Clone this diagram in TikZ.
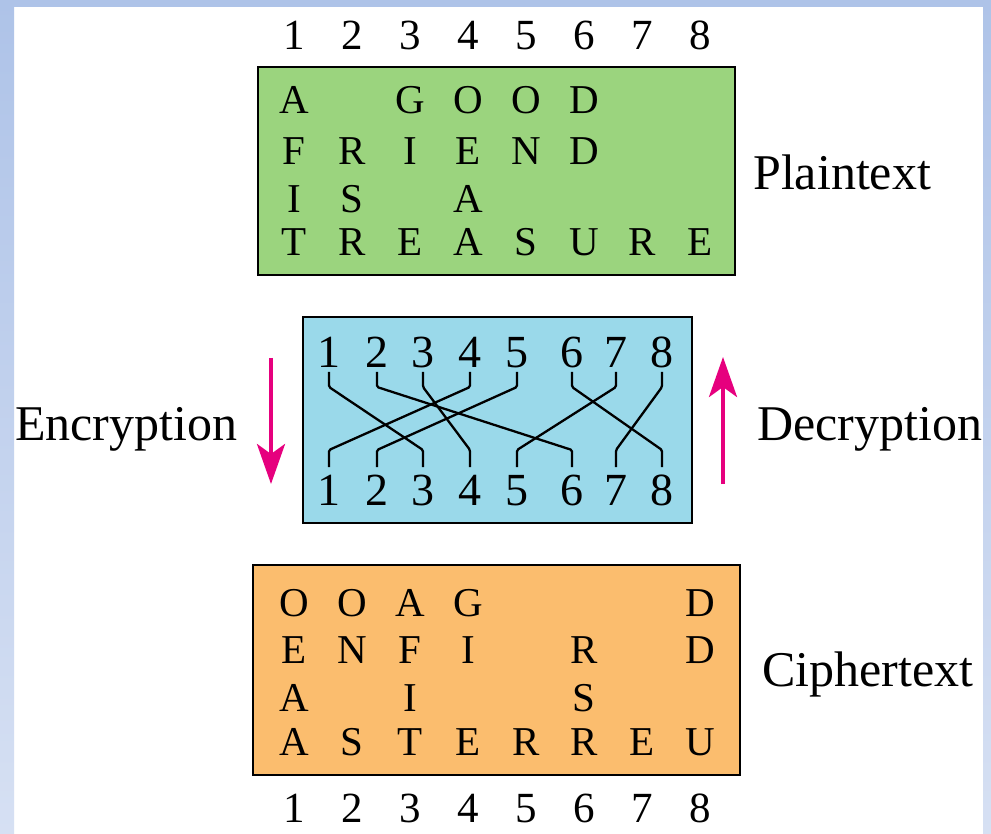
\documentclass[tikz,border=0pt]{standalone}
\usepackage{fontspec}
\setmainfont{Liberation Serif}
\usetikzlibrary{arrows.meta,calc}
\definecolor{framebluetop}{RGB}{174,195,232}
\definecolor{framebluebot}{RGB}{214,224,243}
\definecolor{plaingreen}{RGB}{155,212,126}
\definecolor{keyblue}{RGB}{154,217,234}
\definecolor{cipherorange}{RGB}{251,189,110}
\definecolor{arrowpink}{RGB}{230,0,126}
\begin{document}
\begin{tikzpicture}[x=1pt,y=-1pt,
  boxshape/.style={draw=black,line width=2.6pt,inner sep=0pt,minimum width=#1},
  ch/.style={inner sep=0pt,anchor=base,font=\fontsize{41}{41}\selectfont},
  dig/.style={inner sep=0pt,anchor=base,font=\fontsize{43}{43}\selectfont},
  kdig/.style={inner sep=0pt,anchor=base,font=\fontsize{46}{46}\selectfont},
  lab/.style={inner sep=0pt,anchor=base west,font=\fontsize{50}{50}\selectfont},
  wire/.style={line width=2.3pt,black,rounded corners=1.5pt},
  pinkarrow/.style={line width=4pt,arrowpink,-{Stealth[length=40pt,width=28pt,inset=10pt]}}
]
\useasboundingbox (0,0) rectangle (991,834);
% frame
\fill[white] (0,0) rectangle (991,834);
\shade[top color=framebluetop,bottom color=framebluebot] (0,0) rectangle (14,834);
\shade[top color=framebluetop,bottom color=framebluebot] (983,0) rectangle (991,834);
\fill[framebluetop] (0,0) rectangle (991,7);

% boxes
\node[boxshape=477pt,minimum height=208pt,fill=plaingreen] (plainbox) at (496.5,171) {};
\node[boxshape=389pt,minimum height=206pt,fill=keyblue] (keybox) at (497.5,420) {};
\node[boxshape=487pt,minimum height=210pt,fill=cipherorange] (cipherbox) at (496.5,670) {};

% column numbers
\foreach \c in {1,...,8} {
  \node[dig] (top\c) at ({294+58*(\c-1)},50) {\c};
  \node[dig] (bot\c) at ({294+58*(\c-1)},822) {\c};
}

% plaintext
\foreach \c/\l in {1/A,3/G,4/O,5/O,6/D}
  \node[ch] (pa\c) at ({294+58*(\c-1)},114) {\l};
\foreach \c/\l in {1/F,2/R,3/I,4/E,5/N,6/D}
  \node[ch] (pb\c) at ({294+58*(\c-1)},165) {\l};
\foreach \c/\l in {1/I,2/S,4/A}
  \node[ch] (pc\c) at ({294+58*(\c-1)},213) {\l};
\foreach \c/\l in {1/T,2/R,3/E,4/A,5/S,6/U,7/R,8/E}
  \node[ch] (pd\c) at ({294+58*(\c-1)},256) {\l};

% ciphertext
\foreach \c/\l in {1/O,2/O,3/A,4/G,8/D}
  \node[ch] (ca\c) at ({294+58*(\c-1)},616) {\l};
\foreach \c/\l in {1/E,2/N,3/F,4/I,6/R,8/D}
  \node[ch] (cb\c) at ({294+58*(\c-1)},663) {\l};
\foreach \c/\l in {1/A,3/I,6/S}
  \node[ch] (cc\c) at ({294+58*(\c-1)},711) {\l};
\foreach \c/\l in {1/A,2/S,3/T,4/E,5/R,6/R,7/E,8/U}
  \node[ch] (cd\c) at ({294+58*(\c-1)},755) {\l};

% key digits
\foreach \c/\x in {1/329,2/377,3/423,4/470,5/517,6/572,7/616,8/662} {
  \node[kdig] (kt\c) at (\x,368) {\c};
  \node[kdig] (kb\c) at (\x,505) {\c};
}
% permutation wires
\foreach \a/\b in {1/3,2/6,3/4,4/1,5/2,6/8,7/5,8/7}
  \draw[wire] ($(kt\a.base)+(0,4)$) -- ($(kt\a.base)+(0,19)$)
    -- ($(kb\b.base)+(0,-55)$) -- ($(kb\b.base)+(0,-38)$);

% labels
\node[lab] (plainlab) at (753,190) {Plaintext};
\node[lab] (cipherlab) at (762,686) {Ciphertext};
\node[lab] (enclab) at (15,440) {Encryption};
\node[lab] (declab) at (757,440) {Decryption};

% arrows
\coordinate (encstart) at (271,358);
\coordinate (encend) at (271,484);
\coordinate (decstart) at (723,484);
\coordinate (decend) at (723,357);
\draw[pinkarrow] (encstart) -- (encend);
\draw[pinkarrow] (decstart) -- (decend);
\end{tikzpicture}
\end{document}
